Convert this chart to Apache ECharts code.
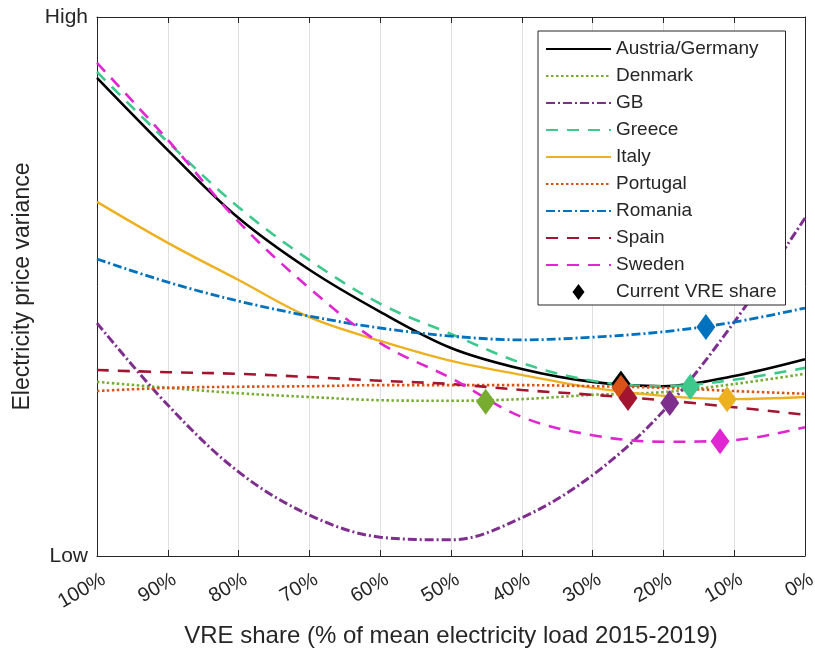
<!DOCTYPE html>
<html><head><meta charset="utf-8">
<script src="https://cdn.jsdelivr.net/npm/echarts@6/dist/echarts.min.js"></script>
<style>html,body{margin:0;padding:0;background:#fff}#c{width:815px;height:653px}</style>
</head><body><div id="c"></div>
<script>
// VRE share (% of mean load), x positions of curve samples
const vreShare = [100, 90, 80, 70, 60, 50, 40, 30, 20, 10, 0];
// Electricity price variance (relative, 0 = Low, 100 = High)
const austriaGermany = [88.7, 75.3, 62.7, 53.1, 45.3, 38.6, 34.7, 32.3, 31.5, 33.4, 36.5];
const denmark        = [32.3, 31.2, 30.2, 29.5, 28.9, 28.8, 29.1, 29.9, 30.4, 31.9, 33.8];
const gb             = [43.2, 28.0, 15.6, 7.6, 3.5, 3.0, 7.1, 15.0, 26.9, 43.4, 62.7];
const greece         = [89.8, 76.8, 64.7, 54.9, 46.8, 41.2, 35.8, 32.5, 31.5, 32.7, 34.9];
const italy          = [65.7, 58.1, 51.2, 44.3, 39.9, 36.2, 33.6, 31.2, 29.7, 29.1, 29.5];
const portugal       = [30.6, 31.2, 31.4, 31.5, 31.7, 31.7, 31.7, 31.5, 31.2, 30.6, 30.1];
const romania        = [55.1, 50.8, 47.3, 44.5, 42.3, 40.8, 40.1, 40.6, 41.6, 43.4, 46.0];
const spain          = [34.5, 34.1, 33.8, 33.2, 32.5, 31.9, 30.8, 29.9, 28.9, 27.6, 26.2];
const sweden         = [91.5, 77.2, 62.0, 49.7, 39.5, 33.0, 25.8, 22.4, 21.2, 21.5, 23.9];
// Current VRE share markers
const currentCountries = ['Austria/Germany', 'Denmark', 'GB', 'Greece', 'Italy', 'Portugal', 'Romania', 'Spain', 'Sweden'];
const currentShare     = [26.0, 45.1, 19.1, 16.2, 11.0, 26.0, 14.0, 25.0, 12.0];
const currentLevel     = [32.0, 28.6, 28.4, 31.4, 29.1, 31.2, 42.5, 29.3, 21.3];
const yTickLabels = {0: 'Low', 100: 'High'};

const countryNames = ['Austria/Germany', 'Denmark', 'GB', 'Greece', 'Italy', 'Portugal', 'Romania', 'Spain', 'Sweden'];
const countryValues = [austriaGermany, denmark, gb, greece, italy, portugal, romania, spain, sweden];
const colors = ['#000000', '#77AC30', '#7E2F8E', '#3DC98C', '#EDB120', '#D95319', '#0072BD', '#A2142F', '#E025D2'];
const dashes = ['solid', [2.5, 2.5], [9, 3, 2, 3], [12, 9], 'solid', [2.5, 2.5], [9, 3, 2, 3], [12, 9], [12, 9]];
const widths = [2.6, 2.6, 3, 2.6, 2.4, 2.6, 2.8, 2.6, 2.6];

const txt = '#262626';
const font = 'Liberation Sans, Arial, sans-serif';

const series = countryNames.map((name, i) => ({
  name: name,
  type: 'line',
  data: vreShare.map((x, j) => [x, countryValues[i][j]]),
  smooth: 0.35,
  symbol: 'none',
  lineStyle: {color: colors[i], width: widths[i], type: dashes[i]},
  itemStyle: {color: colors[i]},
  z: 3
}));
series.push({
  name: 'Current VRE share',
  type: 'scatter',
  symbol: 'diamond',
  symbolSize: [19, 26],
  itemStyle: {color: '#000', opacity: 1},
  data: currentCountries.map((c, i) => ({
    value: [currentShare[i], currentLevel[i]],
    itemStyle: {color: colors[countryNames.indexOf(c)], opacity: 1}
  })),
  z: 5
});

const legendData = countryNames.map(n => ({name: n, itemStyle: {opacity: 0}}));
legendData.push({name: 'Current VRE share', icon: 'path://M6,0L12,8L6,16L0,8Z', itemStyle: {opacity: 1}});

const chart = echarts.init(document.getElementById('c'));
chart.setOption({
  animation: false,
  backgroundColor: '#fff',
  grid: {left: 97, right: 10, top: 17, bottom: 97, containLabel: false, outerBoundsMode: 'none'},
  xAxis: [{
    type: 'value', min: 0, max: 100, interval: 10, inverse: true,
    name: 'VRE share (% of mean electricity load 2015-2019)',
    nameLocation: 'middle', nameGap: 68,
    nameTextStyle: {fontSize: 24, color: txt, fontFamily: font},
    axisLine: {show: true, onZero: false, lineStyle: {color: txt, width: 1}},
    axisTick: {show: true, inside: true, length: 6, lineStyle: {color: txt}},
    axisLabel: {formatter: '{value}%', rotate: 30, fontSize: 20, color: txt, fontFamily: font, margin: 26, padding: [0, -8, 0, 0]},
    splitLine: {show: true, lineStyle: {color: '#e0e0e0', width: 1}}
  }, {
    type: 'value', min: 0, max: 100, interval: 10, inverse: true, position: 'top',
    axisLine: {show: true, onZero: false, lineStyle: {color: txt, width: 1}},
    axisTick: {show: true, inside: true, length: 6, lineStyle: {color: txt}},
    axisLabel: {show: false}, splitLine: {show: false}
  }],
  yAxis: [{
    type: 'value', min: 0, max: 100, interval: 100,
    name: 'Electricity price variance',
    nameLocation: 'middle', nameGap: 63,
    nameTextStyle: {fontSize: 23, color: txt, fontFamily: font},
    axisLine: {show: true, onZero: false, lineStyle: {color: txt, width: 1}},
    axisTick: {show: false},
    axisLabel: {formatter: v => yTickLabels[v] || '', fontSize: 21, color: txt, fontFamily: font, margin: 9},
    splitLine: {show: false}
  }, {
    type: 'value', min: 0, max: 100, interval: 100, position: 'right',
    axisLine: {show: true, onZero: false, lineStyle: {color: txt, width: 1}},
    axisTick: {show: false}, axisLabel: {show: false}, splitLine: {show: false}
  }],
  legend: {
    orient: 'vertical', left: 538, top: 31,
    data: legendData,
    itemWidth: 65, itemHeight: 16, itemGap: 7,
    symbolKeepAspect: true,
    padding: [8, 9, 3, 7],
    backgroundColor: '#fff', borderColor: txt, borderWidth: 1, borderRadius: 0,
    textStyle: {fontSize: 19, color: txt, fontFamily: font, lineHeight: 20},
    z: 10
  },
  series: series
});
</script></body></html>
